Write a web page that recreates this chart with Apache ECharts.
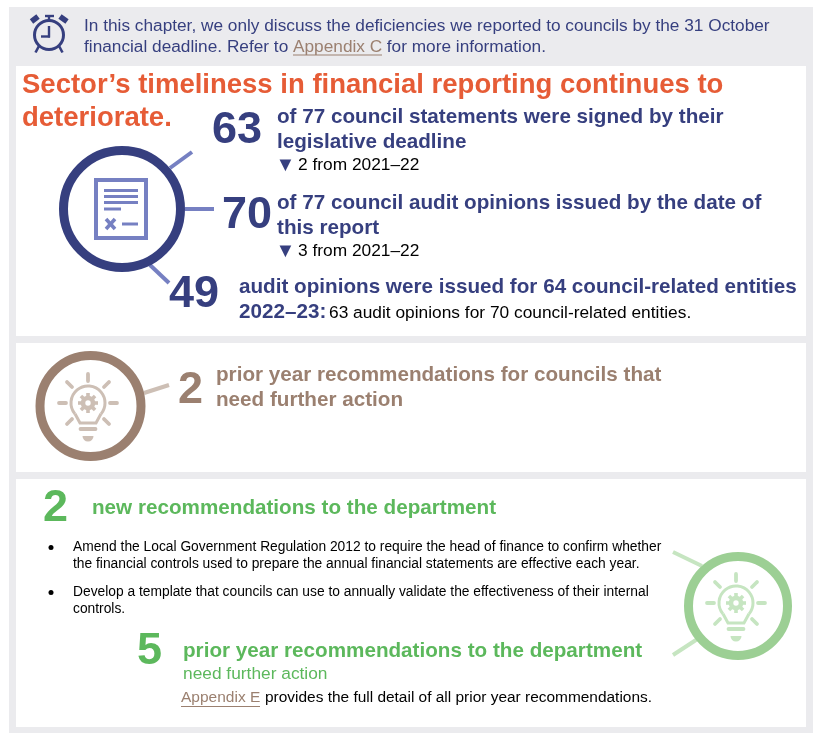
<!DOCTYPE html>
<html>
<head>
<meta charset="utf-8">
<script src="https://cdn.jsdelivr.net/npm/echarts@6/dist/echarts.min.js"></script>
<style>
html, body { margin: 0; padding: 0; background: #fff; }
#main { width: 822px; height: 743px; }
</style>
</head>
<body>
<div id="main"></div>
<script>
var noteLines = ['In this chapter, we only discuss the deficiencies we reported to councils by the 31 October', 'financial deadline. Refer to '];
var headingLines = ['Sector’s timeliness in financial reporting continues to', 'deteriorate.'];
var bigNumbers = ['63', '70', '49', '2', '2', '5'];
var signedLines = ['of 77 council statements were signed by their', 'legislative deadline', '2 from 2021–22'];
var opinionLines = ['of 77 council audit opinions issued by the date of', 'this report', '3 from 2021–22'];
var entityLines = ['audit opinions were issued for 64 council-related entities', '2022–23:', '63 audit opinions for 70 council-related entities.'];
var priorLines = ['prior year recommendations for councils that', 'need further action'];
var newRecTitle = 'new recommendations to the department';
var bullets = ['Amend the Local Government Regulation 2012 to require the head of finance to confirm whether', 'the financial controls used to prepare the annual financial statements are effective each year.', 'Develop a template that councils can use to annually validate the effectiveness of their internal', 'controls.'];
var deptLines = ['prior year recommendations to the department', 'need further action'];
var appendixNote = 'provides the full detail of all prior year recommendations.';

var navy = '#363f7f', navyLight = '#7680c2', orange = '#e65c36', brown = '#9b8070', brownLight = '#cdbfb5', green = '#5cb85c', greenMid = '#9ccf94', greenLight = '#c6e5c1';
var font = '"Liberation Sans", Arial, sans-serif';

var items = [];

function rect(x, y, w, h, fill) {
    items.push({type: 'rect', shape: {x: x, y: y, width: w, height: h}, style: {fill: fill}});
}
function line(x1, y1, x2, y2, color, w, cap) {
    items.push({type: 'line', shape: {x1: x1, y1: y1, x2: x2, y2: y2}, style: {stroke: color, lineWidth: w, lineCap: cap || 'butt'}});
}
function circle(cx, cy, r, color, w) {
    items.push({type: 'circle', shape: {cx: cx, cy: cy, r: r}, style: {fill: 'none', stroke: color, lineWidth: w}});
}
function text(x, y, str, size, color, bold) {
    items.push({type: 'text', x: x, y: y, style: {
        text: str, fill: color, fontFamily: font, fontSize: size,
        fontWeight: bold ? 'bold' : 'normal', verticalAlign: 'middle', align: 'left'
    }});
}

// lightbulb icon with gear, all offsets from the glass centre
function bulb(cx, cy, color) {
    var rays = [[0, -29, 0, -22], [-29, 0, -22, 0], [29, 0, 22, 0], [-21, -21, -16, -16], [21, -21, 16, -16], [-21, 21, -16, 16], [21, 21, 16, 16]];
    rays.forEach(function (r) {
        line(cx + r[0], cy + r[1], cx + r[2], cy + r[3], color, 3.8, 'round');
    });
    items.push({type: 'arc', shape: {cx: cx, cy: cy, r: 17, startAngle: Math.PI * 0.78, endAngle: Math.PI * 0.22, clockwise: true},
        style: {fill: 'none', stroke: color, lineWidth: 3}});
    items.push({type: 'polyline', shape: {points: [[cx - 13, cy + 10.8], [cx - 8, cy + 20], [cx + 8, cy + 20], [cx + 13, cy + 10.8]]},
        style: {fill: 'none', stroke: color, lineWidth: 3}});
    for (var i = 0; i < 8; i++) {
        var a = i * Math.PI / 4;
        line(cx + 6 * Math.cos(a), cy + 6 * Math.sin(a), cx + 10 * Math.cos(a), cy + 10 * Math.sin(a), color, 3.6);
    }
    circle(cx, cy, 5, color, 4.6);
    line(cx - 7.5, cy + 26, cx + 7.5, cy + 26, color, 3.8, 'round');
    items.push({type: 'sector', shape: {cx: cx, cy: cy + 33, r: 5.5, r0: 0, startAngle: 0, endAngle: Math.PI}, style: {fill: color}});
}

// panels
rect(9, 7, 804, 726, '#ebebee');
rect(16, 66, 790, 270, '#fff');
rect(16, 343, 790, 129, '#fff');
rect(16, 479, 790, 248, '#fff');

// alarm clock
circle(49, 35, 14.5, navy, 3);
line(49, 26, 49, 37.5, navy, 2.4);
line(41, 36.5, 50, 36.5, navy, 2.4);
line(49, 16, 49, 21, navy, 2.4);
line(45, 16, 54, 16, navy, 2.4);
line(31.5, 21.5, 38, 16.5, navy, 5.5);
line(60, 16.5, 67, 21.5, navy, 5.5);
line(39, 46, 35.5, 52.5, navy, 2.6);
line(59, 46, 62.5, 52.5, navy, 2.6);

text(84, 26, noteLines[0], 17.25, navy);
text(84, 47, noteLines[1], 17.25, navy);
text(293, 47, 'Appendix C', 17.25, brown);
line(293, 55, 382, 55, brown, 1);
text(382, 47, ' for more information.', 17.25, navy);

text(22, 85, headingLines[0], 27.5, orange, true);
text(22, 118, headingLines[1], 27.5, orange, true);

// document ring
line(170, 168, 192, 152, navyLight, 4);
line(185, 209, 214, 209, navyLight, 4);
line(150, 265, 169, 283, navyLight, 4);
circle(122, 209, 58.5, navy, 9);
items.push({type: 'rect', shape: {x: 96, y: 180, width: 50, height: 58}, style: {fill: 'none', stroke: navyLight, lineWidth: 4}});
line(104, 190.5, 138, 190.5, navyLight, 3);
line(104, 196.5, 138, 196.5, navyLight, 3);
line(104, 202.5, 138, 202.5, navyLight, 3);
line(104, 209, 121, 209, navyLight, 3);
line(106, 219, 115, 229, navyLight, 3.6);
line(115, 219, 106, 229, navyLight, 3.6);
line(122, 224, 138, 224, navyLight, 3);

text(212, 131, bigNumbers[0], 45, navy, true);
text(277, 117.7, signedLines[0], 20.67, navy, true);
text(277, 142.7, signedLines[1], 20.67, navy, true);
text(275.5, 165, '▼', 20, navy);
text(298, 165, signedLines[2], 17.33, '#000');

text(222, 215.5, bigNumbers[1], 45, navy, true);
text(277, 203.7, opinionLines[0], 20.67, navy, true);
text(277, 228.7, opinionLines[1], 20.67, navy, true);
text(275.5, 251, '▼', 20, navy);
text(298, 251, opinionLines[2], 17.33, '#000');

text(169, 294.5, bigNumbers[2], 45, navy, true);
text(239, 287, entityLines[0], 20.67, navy, true);
text(239, 312.7, entityLines[1], 20.67, navy, true);
text(329, 313, entityLines[2], 17.33, '#000');

// brown panel
line(144, 393, 169, 385, brownLight, 4);
circle(90.5, 406, 50.5, brown, 9);
bulb(88, 403, brownLight);
text(178, 390.5, bigNumbers[3], 45, brown, true);
text(216, 375.7, priorLines[0], 20.67, brown, true);
text(216, 400.7, priorLines[1], 20.67, brown, true);

// green panel
text(43, 508.5, bigNumbers[4], 45, green, true);
text(92, 508.7, newRecTitle, 20.67, green, true);
items.push({type: 'circle', shape: {cx: 51, cy: 547.5, r: 2.5}, style: {fill: '#000'}});
items.push({type: 'circle', shape: {cx: 51, cy: 592.5, r: 2.5}, style: {fill: '#000'}});
text(73, 547, bullets[0], 13.8, '#000');
text(73, 564, bullets[1], 13.8, '#000');
text(73, 592, bullets[2], 13.8, '#000');
text(73, 609, bullets[3], 13.8, '#000');

line(673, 552, 702, 566, greenLight, 4);
line(673, 655, 699, 638, greenLight, 4);
circle(738, 606, 49.5, greenMid, 9);
bulb(736, 603, greenLight);

text(137, 652, bigNumbers[5], 45, green, true);
text(183, 651.7, deptLines[0], 20.67, green, true);
text(183, 674.5, deptLines[1], 17.33, green);
text(181, 698, 'Appendix E', 15.5, brown);
line(181, 706.5, 260, 706.5, brown, 1);
text(265, 698, appendixNote, 15.45, '#000');

var myChart = echarts.init(document.getElementById('main'));
myChart.setOption({
    animation: false,
    backgroundColor: '#fff',
    graphic: {elements: items}
});
</script>
</body>
</html>
